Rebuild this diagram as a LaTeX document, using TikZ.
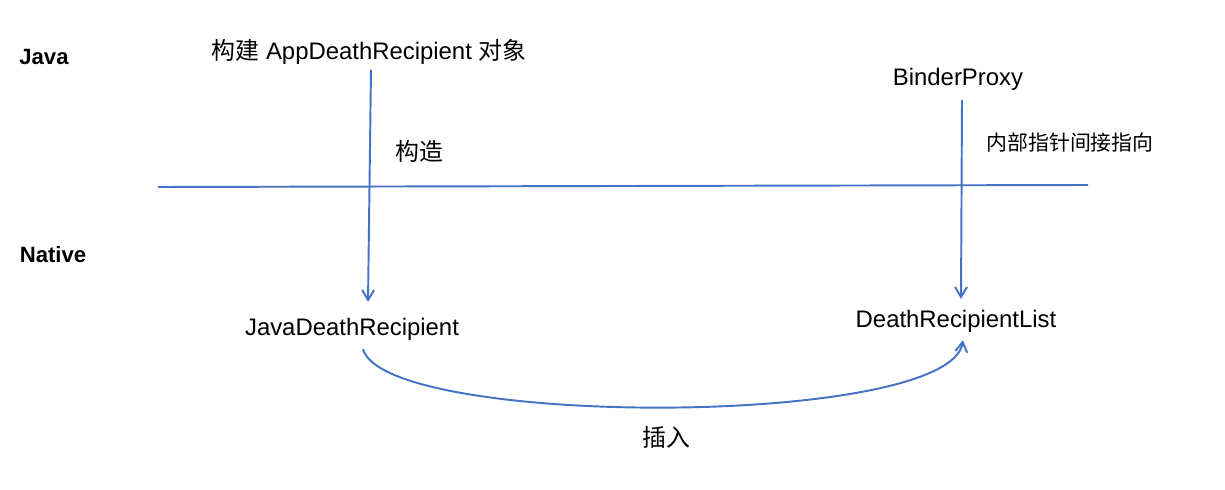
\documentclass[tikz,border=0pt]{standalone}
\usepackage{fontspec}
\setmainfont{Liberation Sans}
\newfontfamily\cjk{Noto Sans CJK SC}
\newcommand{\zh}[1]{{\cjk #1}}
\usetikzlibrary{calc,positioning,arrows.meta}
\definecolor{lineblue}{HTML}{4472C4}
\tikzset{>={Straight Barb[length=2mm,width=2.4mm]}}

\begin{document}
\begin{tikzpicture}[
label/.style = {inner sep=0pt, outer sep=0pt,
                font=\fontsize{13.6pt}{16pt}\selectfont},
layer/.style = {inner sep=0pt, outer sep=0pt,
                font=\fontsize{12.6pt}{15pt}\selectfont\bfseries},
note/.style  = {inner sep=0pt, outer sep=0pt,
                font=\fontsize{11.9pt}{14pt}\selectfont},
link/.style  = {draw=lineblue, line width=1.1pt},
]
        \useasboundingbox (0,0) rectangle (24.5,9.78);
        % layers
        \node (java)   [layer] at (0.88,8.64) {Java};
        \node (native) [layer] at (1.06,4.68) {Native};
        \coordinate (sepL) at (3.16,6.04);
        \coordinate (sepR) at (21.76,6.08);
        \draw[link] (sepL) -- (sepR);
        % java side
        \node (build)  [label] at (7.38,8.74)
                       {\zh{构建} AppDeathRecipient \zh{对象}};
        \node (proxy)  [label] at (19.16,8.2) {BinderProxy};
        \node (make)   [label] at (8.38,6.76) {\zh{构造}};
        \node (ptr)    [note]  at (21.4,6.92) {\zh{内部指针间接指向}};
        % native side
        \node (jdr)    [label] at (7.04,3.2) {JavaDeathRecipient};
        \node (drl)    [label] at (19.12,3.36) {DeathRecipientList};
        \node (insert) [label] at (13.32,1.04) {\zh{插入}};
        % connectors
        \draw[link,->] ([xshift=0.04cm,yshift=-0.1cm]build.south)
                    -- ([xshift=0.32cm,yshift=0.32cm]jdr.north);
        \draw[link,->] ([xshift=0.08cm,yshift=-0.2cm]proxy.south)
                    -- ([xshift=0.1cm,yshift=0.22cm]drl.north);
        \draw[link,->] ([xshift=0.22cm,yshift=-0.18cm]jdr.south)
                    .. controls +(0.44,-1.58) and +(-0.26,-1.76) ..
                       ([xshift=0.14cm,yshift=-0.16cm]drl.south);
    \end{tikzpicture}
\end{document}
